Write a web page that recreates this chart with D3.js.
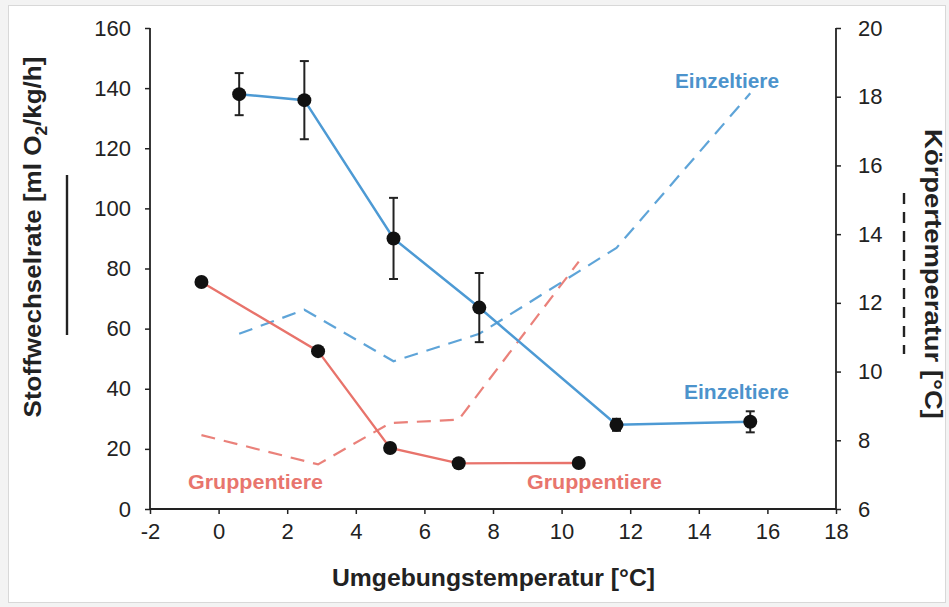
<!DOCTYPE html>
<html><head><meta charset="utf-8">
<script src="https://cdn.jsdelivr.net/npm/d3@7"></script>
<style>body{margin:0;background:#f3f3f3;}svg{display:block;font-family:Arial,"Liberation Sans",sans-serif;}</style>
</head><body>
<svg id="c" width="949" height="607"></svg>
<script>
// Data
const einzelX = [0.6, 2.5, 5.1, 7.6, 11.6, 15.5];
const einzelRate = [138, 136, 90, 67, 28, 29];
const einzelErr = [7, 13, 13.5, 11.5, 2, 3.5];
const einzelTemp = [11.1, 11.8, 10.3, 11.1, 13.6, 18.1];
const gruppeX = [-0.5, 2.9, 5.0, 7.0, 10.5];
const gruppeRate = [75.5, 52.5, 20.3, 15.2, 15.3];
const gruppeTemp = [8.15, 7.3, 8.5, 8.6, 13.2];
const xTicks = [-2,0,2,4,6,8,10,12,14,16,18];
const yTicks = [0,20,40,60,80,100,120,140,160];
const y2Ticks = [6,8,10,12,14,16,18,20];

const blue = "#4d9ad4", red = "#e8736b";
const blueText = "#4c93cc", redText = "#e8756d";
const svg = d3.select("#c");
svg.append("rect").attr("x",8.5).attr("y",5.5).attr("width",937).attr("height",597)
  .attr("fill","#fff").attr("stroke","#d8d8d8");

const x = d3.scaleLinear().domain([-2,18]).range([150,836]);
const y = d3.scaleLinear().domain([0,160]).range([509,28]);
const y2 = d3.scaleLinear().domain([6,20]).range([509,28]);
const fmt = d=>String(d);

const ax = svg.append("g").attr("transform","translate(0,509)")
  .call(d3.axisBottom(x).tickValues(xTicks).tickSize(5).tickPadding(9).tickFormat(fmt));
const ay = svg.append("g").attr("transform","translate(150,0)")
  .call(d3.axisLeft(y).tickValues(yTicks).tickSize(5).tickPadding(14).tickFormat(fmt));
const ay2 = svg.append("g").attr("transform","translate(836,0)")
  .call(d3.axisRight(y2).tickValues(y2Ticks).tickSize(5).tickPadding(17).tickFormat(fmt));
[ax,ay,ay2].forEach(g=>{
  g.select(".domain").attr("stroke","#222").attr("stroke-width",1.8);
  g.selectAll(".tick line").attr("stroke","#222").attr("stroke-width",1.5);
  g.selectAll("text").attr("font-size",22).attr("fill","#222").attr("font-family","Arial,'Liberation Sans',sans-serif");
});
ax.select(".domain").attr("d","M150,0H836");
ay.select(".domain").attr("d","M0,509V28");
ay2.select(".domain").attr("d","M0,509V28");

const line = (xs,ys,ysc)=>d3.line().x((d,i)=>x(xs[i])).y((d,i)=>ysc(d))(ys);

// dashed temperature lines
svg.append("path").attr("d",line(gruppeX,gruppeTemp,y2)).attr("fill","none")
  .attr("stroke",red).attr("stroke-width",2.2).attr("stroke-dasharray","14,9").attr("opacity",0.9);
svg.append("path").attr("d",line(einzelX,einzelTemp,y2)).attr("fill","none")
  .attr("stroke",blue).attr("stroke-width",2.2).attr("stroke-dasharray","14,9").attr("opacity",0.9);

// solid rate lines
svg.append("path").attr("d",line(gruppeX,gruppeRate,y)).attr("fill","none")
  .attr("stroke",red).attr("stroke-width",2.3);
svg.append("path").attr("d",line(einzelX,einzelRate,y)).attr("fill","none")
  .attr("stroke",blue).attr("stroke-width",2.5);

// error bars
const eb = svg.append("g").attr("stroke","#222").attr("stroke-width",2);
einzelX.forEach((xv,i)=>{
  const cx=x(xv), t=y(einzelRate[i]+einzelErr[i]), b=y(einzelRate[i]-einzelErr[i]);
  eb.append("line").attr("x1",cx).attr("x2",cx).attr("y1",t).attr("y2",b);
  eb.append("line").attr("x1",cx-4.5).attr("x2",cx+4.5).attr("y1",t).attr("y2",t);
  eb.append("line").attr("x1",cx-4.5).attr("x2",cx+4.5).attr("y1",b).attr("y2",b);
});
// points
svg.append("g").selectAll("circle").data(einzelRate).join("circle")
  .attr("cx",(d,i)=>x(einzelX[i])).attr("cy",d=>y(d)).attr("r",7).attr("fill","#111");
svg.append("g").selectAll("circle").data(gruppeRate).join("circle")
  .attr("cx",(d,i)=>x(gruppeX[i])).attr("cy",d=>y(d)).attr("r",7).attr("fill","#111");

// series labels
const lab=(t,xx,yy,c,len)=>svg.append("text").attr("x",xx).attr("y",yy).attr("fill",c)
  .attr("font-size",21).attr("font-weight","bold").attr("textLength",len)
  .attr("lengthAdjust","spacingAndGlyphs").text(t);
lab("Einzeltiere",675,88,blueText,104);
lab("Einzeltiere",684,399,blueText,105);
lab("Gruppentiere",188,489,redText,135);
lab("Gruppentiere",527,489,redText,135);

// axis titles
svg.append("text").attr("x",332).attr("y",586)
  .attr("font-size",24).attr("font-weight","bold").attr("fill","#222")
  .attr("textLength",323).attr("lengthAdjust","spacingAndGlyphs").text("Umgebungstemperatur [°C]");

const lt = svg.append("text").attr("text-anchor","middle")
  .attr("font-size",24).attr("font-weight","bold").attr("fill","#222");
lt.append("tspan").text("Stoffwechselrate [ml O");
lt.append("tspan").attr("font-size",16).attr("dy",6).text("2");
lt.append("tspan").attr("dy",-6).text("/kg/h]");
const ltw = lt.node().getComputedTextLength();
lt.attr("transform",`translate(41,237) rotate(-90) scale(${361/ltw},1)`);
svg.append("line").attr("x1",67).attr("x2",67).attr("y1",175).attr("y2",335).attr("stroke","#222").attr("stroke-width",2.4);

const rt = svg.append("text").attr("text-anchor","middle")
  .attr("font-size",24).attr("font-weight","bold").attr("fill","#222").text("Körpertemperatur [°C]");
const rtw = rt.node().getComputedTextLength();
rt.attr("transform",`translate(925,274) rotate(90) scale(${290/rtw},1)`);
svg.append("line").attr("x1",904).attr("x2",904).attr("y1",193).attr("y2",354).attr("stroke","#222")
  .attr("stroke-width",2.4).attr("stroke-dasharray","11,8");
</script>
</body></html>
